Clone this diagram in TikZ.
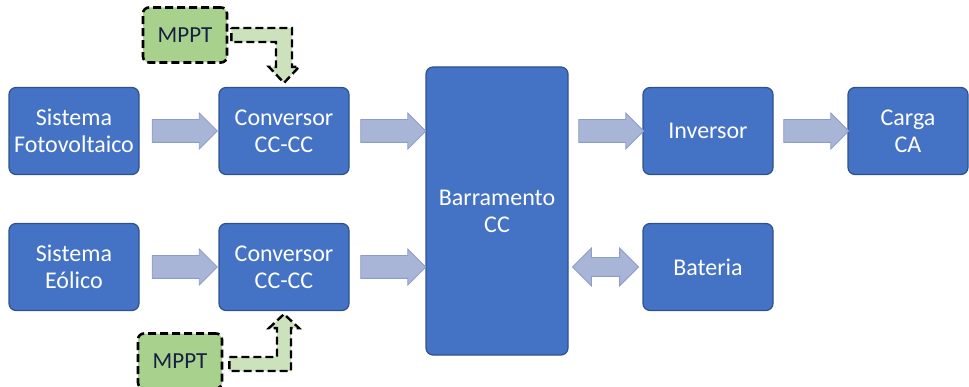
\documentclass[tikz,border=0pt]{standalone}
\usepackage{fontspec}
\setmainfont{Carlito}
\usetikzlibrary{shapes.arrows,calc}

\definecolor{boxblue}{RGB}{68,114,196}
\definecolor{boxline}{RGB}{47,82,143}
\definecolor{arrowfill}{RGB}{168,181,215}
\definecolor{arrowline}{RGB}{140,157,201}
\definecolor{mpptfill}{RGB}{169,209,142}
\definecolor{mpptarrow}{RGB}{204,226,189}
\definecolor{mppttext}{RGB}{22,32,64}

\tikzset{
  bloco/.style={draw=boxline, fill=boxblue, line width=1.2pt, rounded corners=7pt,
    text=white, align=center, font=\fontsize{24}{27}\selectfont,
    minimum width=130pt, minimum height=87pt, inner sep=0pt},
  seta/.style={single arrow, draw=arrowline, fill=arrowfill, line width=0.8pt,
    minimum height=65pt, single arrow head extend=6.5pt, inner xsep=0pt, inner ysep=11pt},
  setadupla/.style={double arrow, draw=arrowline, fill=arrowfill, line width=0.8pt,
    minimum height=66pt, double arrow head extend=9.5pt, inner xsep=0pt, inner ysep=9pt},
  mppt/.style={draw=black, fill=mpptfill, line width=2.6pt, dash pattern=on 8pt off 4pt,
    rounded corners=6pt, text=mppttext, font=\fontsize{23}{27}\selectfont,
    minimum width=84pt, minimum height=55pt, inner sep=0pt},
  controle/.style={draw=black, fill=mpptarrow, line width=2.4pt, dash pattern=on 8pt off 4pt}
}

\begin{document}
\begin{tikzpicture}[x=1pt,y=-1pt]
    \path[use as bounding box, clip] (0,0) rectangle (969,387);

    \node[bloco] (pv) at (74,131) {Sistema\\Fotovoltaico};
    \node[bloco] (eol) at (74,267) {Sistema\\Eólico};
    \node[bloco] (conv1) at (284,131) {Conversor\\CC-CC};
    \node[bloco] (conv2) at (284,267) {Conversor\\CC-CC};
    \node[bloco, minimum width=142pt, minimum height=288pt] (bus) at (497,211) {Barramento\\CC};
    \node[bloco] (inv) at (708,131) {Inversor};
    \node[bloco] (bat) at (708,267) {Bateria};
    \node[bloco, minimum width=120pt] (carga) at (908,131) {Carga\\CA};

    \node[mppt] (mppt1) at (185,35) {MPPT};
    \node[mppt] (mppt2) at (180,361) {MPPT};

    \node[seta] at ($(pv.east)!0.5!(conv1.west)$) {};
    \node[seta] at ($(eol.east)!0.5!(conv2.west)$) {};
    \node[seta] at ($(conv1.east)!0.5!(bus.west |- conv1.east)$) {};
    \node[seta] at ($(conv2.east)!0.5!(bus.west |- conv2.east)$) {};
    \node[seta] at ($(bus.east |- inv.west)!0.5!(inv.west)$) {};
    \node[seta] at ($(inv.east)!0.5!(carga.west)$) {};
    \node[setadupla] at ($(bus.east |- bat.west)!0.5!(bat.west)$) {};

    % ligacoes MPPT
    \coordinate (t1) at ($(mppt1.east)+(3,0)$);
    \coordinate (t2) at (t1 -| conv1.north);
    \draw[controle] ($(t1)+(0,-7)$) -- ($(t2)+(8,-7)$) -- ($(conv1.north)+(8,-20)$)
      -- ($(conv1.north)+(15,-20)$) -- ($(conv1.north)+(0,-4)$) -- ($(conv1.north)+(-15,-20)$)
      -- ($(conv1.north)+(-8,-20)$) -- ($(t2)+(-8,7)$) -- ($(t1)+(0,7)$) -- cycle;
    \coordinate (b1) at ($(mppt2.east)+(6,3)$);
    \coordinate (b2) at (b1 -| conv2.south);
    \draw[controle] ($(b1)+(0,-7)$) -- ($(b2)+(-7,-7)$) -- ($(conv2.south)+(-7,17)$)
      -- ($(conv2.south)+(-15,17)$) -- ($(conv2.south)+(0,3)$) -- ($(conv2.south)+(15,17)$)
      -- ($(conv2.south)+(7,17)$) -- ($(b2)+(7,7)$) -- ($(b1)+(0,7)$) -- cycle;
\end{tikzpicture}
\end{document}
